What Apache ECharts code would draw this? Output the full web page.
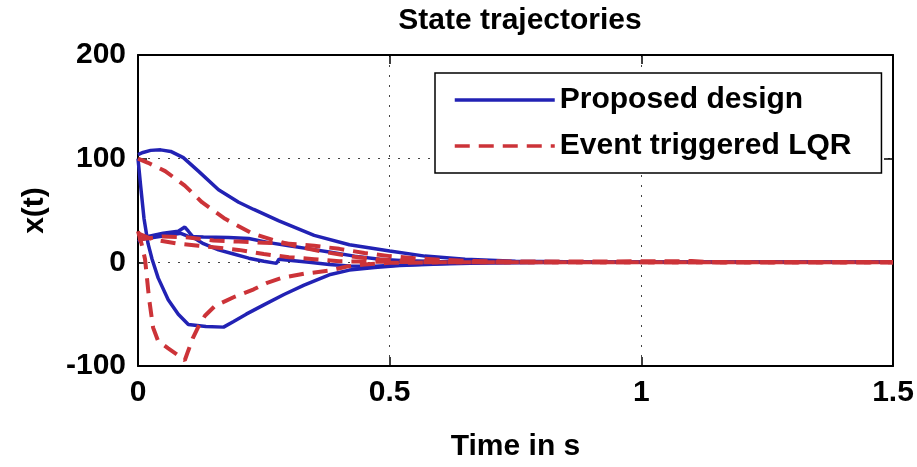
<!DOCTYPE html>
<html>
<head>
<meta charset="utf-8">
<script src="https://cdn.jsdelivr.net/npm/echarts@6/dist/echarts.min.js"></script>
<style>
html,body{margin:0;padding:0;background:#fff;}
#chart{width:917px;height:467px;}
</style>
</head>
<body>
<div id="chart"></div>
<script>
// ---- data ----
const titleText = 'State trajectories';
const xName = 'Time in s';
const yName = 'x(t)';
const legendNames = ['Proposed design', 'Event triggered LQR'];
const xTicks = [0, 0.5, 1, 1.5];
const yTicks = [-100, 0, 100, 200];

// Proposed design (solid blue), four states
const tP1 = [0, 0.01, 0.025, 0.045, 0.065, 0.09, 0.12, 0.16, 0.2, 0.23, 0.28, 0.35, 0.42, 0.5, 0.57, 0.65, 0.75, 0.9, 1.1, 1.5];
const xP1 = [104, 106, 108, 108.5, 107, 101, 88, 70, 58, 51, 40, 26, 17, 11, 6, 3, 1, 0.3, 0, 0];
const tP2 = [0, 0.005, 0.012, 0.02, 0.028, 0.04, 0.06, 0.08, 0.1, 0.135, 0.17, 0.19, 0.215, 0.25, 0.29, 0.33, 0.38, 0.42, 0.47, 0.52, 0.6, 0.7, 0.8, 1.5];
const xP2 = [100, 75, 42, 18, 3, -15, -36, -50, -60, -62, -62.5, -57, -50, -41, -31, -22, -12, -7.5, -5, -3, -1.5, -0.5, 0, 0];
const tP3 = [0, 0.02, 0.05, 0.08, 0.093, 0.1, 0.11, 0.13, 0.16, 0.19, 0.22, 0.25, 0.275, 0.28, 0.3, 0.34, 0.38, 0.42, 0.46, 0.5, 0.55, 0.62, 0.7, 0.85, 1.5];
const xP3 = [20, 25, 28, 30, 34, 30, 24, 18, 12, 8, 4, 1, -1, 3, 2, 0, -2, -3.5, -4, -3, -2, -1, -0.5, 0, 0];
const tP4 = [0, 0.03, 0.06, 0.085, 0.1, 0.13, 0.18, 0.22, 0.26, 0.3, 0.34, 0.38, 0.43, 0.48, 0.53, 0.6, 0.7, 0.85, 1.5];
const xP4 = [22, 24, 26, 28, 25, 24.5, 24, 23, 19, 16, 13, 10, 6, 3, 1.5, 0.8, 0.3, 0, 0];

// Event triggered LQR (dashed red), four states
const tE1 = [0, 0.02, 0.054, 0.093, 0.127, 0.173, 0.226, 0.272, 0.32, 0.37, 0.42, 0.47, 0.52, 0.6, 0.7, 0.8, 1.0, 1.5];
const xE1 = [100, 96, 88, 74, 58, 42, 28, 21, 15, 10, 6, 3, 1.5, 0.5, 0.2, 0, 0, 0];
const tE2 = [0, 0.007, 0.014, 0.022, 0.03, 0.04, 0.06, 0.075, 0.093, 0.1, 0.109, 0.12, 0.133, 0.153, 0.193, 0.23, 0.258, 0.286, 0.33, 0.38, 0.415, 0.45, 0.5, 0.6, 0.7, 1.5];
const xE2 = [30, 18, 3, -35, -63, -76, -83, -88, -94.5, -85, -73, -62, -51.5, -42, -33, -26, -19.5, -15, -11, -8, -4, -2, -0.5, 0, 0, 0];
const tE3 = [0, 0.05, 0.1, 0.15, 0.2, 0.25, 0.3, 0.35, 0.4, 0.45, 0.5, 0.55, 0.6, 0.65, 0.7, 0.8, 0.9, 1.0, 1.1, 1.15, 1.5];
const xE3 = [22, 25, 24, 21, 20, 19, 18, 16, 13, 9, 6, 4, 2.5, 1.5, 1, 0.8, 0.8, 1, 1.2, 0, 0];
const tE4 = [0, 0.03, 0.08, 0.12, 0.2, 0.25, 0.3, 0.35, 0.4, 0.5, 0.6, 0.8, 1.5];
const xE4 = [28, 22, 18, 16, 12, 8, 5, 3, 1, 0.5, 0, 0, 0];

// ---- chart ----
const FONT = "'Liberation Sans', Arial, sans-serif";
const BLUE = '#2222b4';
const RED = '#cc3338';
const pairs = (t, x) => t.map((v, i) => [v, x[i]]);

const proposed = [[tP1, xP1], [tP2, xP2], [tP3, xP3], [tP4, xP4]];
const lqr = [[tE1, xE1], [tE2, xE2], [tE3, xE3], [tE4, xE4]];

const series = [];
proposed.forEach(([t, x]) => series.push({
  name: legendNames[0], type: 'line', data: pairs(t, x), symbol: 'none',
  lineStyle: { color: BLUE, width: 3.5 }, itemStyle: { color: BLUE }, z: 3, animation: false
}));
lqr.forEach(([t, x]) => series.push({
  name: legendNames[1], type: 'line', data: pairs(t, x), symbol: 'none',
  lineStyle: { color: RED, width: 4, type: [15, 9] }, itemStyle: { color: RED }, z: 4, animation: false
}));

const gridLine = { show: true, lineStyle: { color: '#444', width: 1, type: [2, 8] } };
const axisLine = { show: true, onZero: false, lineStyle: { color: '#000', width: 2 } };
const tick = { show: true, inside: true, length: 9, lineStyle: { color: '#000', width: 1.5 } };
const labelStyle = { color: '#000', fontFamily: FONT, fontWeight: 'bold', fontSize: 30 };

const option = {
  backgroundColor: '#fff',
  animation: false,
  title: {
    text: titleText, left: 515, top: 1, textAlign: 'center',
    textStyle: { color: '#000', fontFamily: FONT, fontWeight: 'bold', fontSize: 30 }
  },
  grid: { left: 138, right: 24, top: 55, bottom: 84, containLabel: false },
  legend: {
    data: legendNames, orient: 'vertical', left: 435, top: 73,
    itemWidth: 100, itemHeight: 14, itemGap: 16,
    padding: [12, 30, 12, 18],
    itemStyle: { opacity: 0 },
    lineStyle: { width: 3.5 },
    backgroundColor: '#fff', borderColor: '#000', borderWidth: 1.5,
    textStyle: { color: '#000', fontFamily: FONT, fontWeight: 'bold', fontSize: 30, lineHeight: 30 },
    z: 10
  },
  xAxis: [{
    type: 'value', min: xTicks[0], max: xTicks[xTicks.length - 1], interval: 0.5,
    name: xName, nameLocation: 'middle', nameGap: 66,
    nameTextStyle: labelStyle,
    axisLine: axisLine, axisTick: tick, splitLine: gridLine,
    axisLabel: Object.assign({ margin: 12, formatter: v => String(v) }, labelStyle)
  }, {
    type: 'value', position: 'top', min: xTicks[0], max: xTicks[xTicks.length - 1], interval: 0.5,
    axisLine: axisLine, axisTick: tick, splitLine: { show: false }, axisLabel: { show: false }
  }],
  yAxis: [{
    type: 'value', min: yTicks[0], max: yTicks[yTicks.length - 1], interval: 100,
    name: yName, nameLocation: 'middle', nameGap: 88, nameRotate: 90,
    nameTextStyle: labelStyle,
    axisLine: axisLine, axisTick: tick, splitLine: gridLine,
    axisLabel: Object.assign({ margin: 12 }, labelStyle)
  }, {
    type: 'value', position: 'right', min: yTicks[0], max: yTicks[yTicks.length - 1], interval: 100,
    axisLine: axisLine, axisTick: tick, splitLine: { show: false }, axisLabel: { show: false }
  }],
  series: series
};

const chart = echarts.init(document.getElementById('chart'), null, { renderer: 'canvas' });
chart.setOption(option);
</script>
</body>
</html>
